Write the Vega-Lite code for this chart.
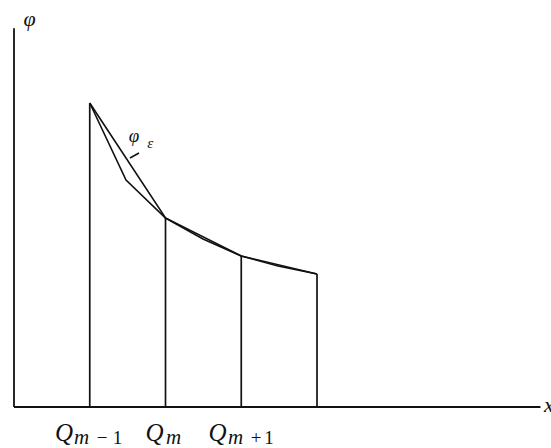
{
  "$schema": "https://vega.github.io/schema/vega-lite/v6.json",
  "width": 551,
  "height": 448,
  "autosize": {"type": "none"},
  "padding": 0,
  "background": "white",
  "config": {"view": {"stroke": null}, "text": {"font": "Liberation Serif, DejaVu Serif, serif"}},
  "datasets": {
    "axes": [
      {"x": 0, "y": 0, "x2": 0, "y2": 5.0},
      {"x": 0, "y": 0, "x2": 6.95, "y2": 0}
    ],
    "qrules": [
      {"x": 1, "y": 0, "y2": 4.013},
      {"x": 2, "y": 0, "y2": 2.495},
      {"x": 3, "y": 0, "y2": 1.993},
      {"x": 4, "y": 0, "y2": 1.756}
    ],
    "curves": [
      {"s": "a", "o": 1, "x": 1, "y": 4.013},
      {"s": "a", "o": 2, "x": 1.479, "y": 2.997},
      {"s": "a", "o": 3, "x": 2, "y": 2.495},
      {"s": "a", "o": 4, "x": 2.495, "y": 2.218},
      {"s": "a", "o": 5, "x": 3, "y": 1.993},
      {"s": "a", "o": 6, "x": 3.485, "y": 1.861},
      {"s": "a", "o": 7, "x": 4, "y": 1.756},
      {"s": "b", "o": 1, "x": 1, "y": 4.013},
      {"s": "b", "o": 2, "x": 2, "y": 2.495},
      {"s": "b", "o": 3, "x": 3, "y": 1.993},
      {"s": "b", "o": 4, "x": 4, "y": 1.756}
    ],
    "leader": [
      {"x": 1.531, "y": 3.287, "x2": 1.650, "y2": 3.353}
    ],
    "labels": [
      {"role": "axis", "t": "φ", "x": 0.205, "y": 5.03},
      {"role": "axisx", "t": "x", "x": 6.995, "y": -0.066},
      {"role": "Q", "t": "Q", "x": 0.660, "y": -0.449},
      {"role": "Q", "t": "Q", "x": 1.855, "y": -0.449},
      {"role": "Q", "t": "Q", "x": 2.686, "y": -0.449},
      {"role": "m", "t": "m", "x": 0.792, "y": -0.488},
      {"role": "m", "t": "m", "x": 2.007, "y": -0.488},
      {"role": "m", "t": "m", "x": 2.825, "y": -0.488},
      {"role": "num", "t": "−", "x": 1.162, "y": -0.488},
      {"role": "num", "t": "1", "x": 1.366, "y": -0.488},
      {"role": "num", "t": "+", "x": 3.195, "y": -0.488},
      {"role": "num", "t": "1", "x": 3.366, "y": -0.488},
      {"role": "phi", "t": "φ", "x": 1.584, "y": 3.498},
      {"role": "eps", "t": "ε", "x": 1.799, "y": 3.419}
    ]
  },
  "encoding": {
    "x": {"field": "x", "type": "quantitative", "scale": {"domain": [-0.1848, 7.089], "nice": false, "zero": false}, "axis": null},
    "y": {"field": "y", "type": "quantitative", "scale": {"domain": [-0.5413, 5.373], "nice": false, "zero": false}, "axis": null}
  },
  "layer": [
    {
      "data": {"name": "axes"},
      "mark": {"type": "rule", "color": "#111", "strokeWidth": 1.8},
      "encoding": {"x2": {"field": "x2"}, "y2": {"field": "y2"}}
    },
    {
      "data": {"name": "qrules"},
      "mark": {"type": "rule", "color": "#111", "strokeWidth": 1.7},
      "encoding": {"y2": {"field": "y2"}}
    },
    {
      "data": {"name": "curves"},
      "mark": {"type": "line", "color": "#111", "strokeWidth": 1.6, "strokeJoin": "miter"},
      "encoding": {"detail": {"field": "s"}, "order": {"field": "o", "type": "quantitative"}}
    },
    {
      "data": {"name": "leader"},
      "mark": {"type": "rule", "color": "#111", "strokeWidth": 1.5},
      "encoding": {"x2": {"field": "x2"}, "y2": {"field": "y2"}}
    },
    {
      "data": {"name": "labels"},
      "transform": [{"filter": "datum.role === 'axis'"}],
      "mark": {"type": "text", "font": "Liberation Serif, DejaVu Serif, serif", "fontStyle": "italic", "fontSize": 22, "align": "center", "baseline": "alphabetic", "color": "#111"},
      "encoding": {"text": {"field": "t"}}
    },
    {
      "data": {"name": "labels"},
      "transform": [{"filter": "datum.role === 'axisx'"}],
      "mark": {"type": "text", "font": "Liberation Serif, DejaVu Serif, serif", "fontStyle": "italic", "fontSize": 22, "align": "left", "baseline": "alphabetic", "color": "#111"},
      "encoding": {"text": {"field": "t"}}
    },
    {
      "data": {"name": "labels"},
      "transform": [{"filter": "datum.role === 'Q'"}],
      "mark": {"type": "text", "font": "Liberation Serif, DejaVu Serif, serif", "fontStyle": "italic", "fontSize": 25, "align": "center", "baseline": "alphabetic", "color": "#111"},
      "encoding": {"text": {"field": "t"}}
    },
    {
      "data": {"name": "labels"},
      "transform": [{"filter": "datum.role === 'm'"}],
      "mark": {"type": "text", "font": "Liberation Serif, DejaVu Serif, serif", "fontStyle": "italic", "fontSize": 21, "align": "left", "baseline": "alphabetic", "color": "#111"},
      "encoding": {"text": {"field": "t"}}
    },
    {
      "data": {"name": "labels"},
      "transform": [{"filter": "datum.role === 'num'"}],
      "mark": {"type": "text", "font": "Liberation Serif, DejaVu Serif, serif", "fontSize": 19, "align": "center", "baseline": "alphabetic", "color": "#111"},
      "encoding": {"text": {"field": "t"}}
    },
    {
      "data": {"name": "labels"},
      "transform": [{"filter": "datum.role === 'phi'"}],
      "mark": {"type": "text", "font": "Liberation Serif, DejaVu Serif, serif", "fontStyle": "italic", "fontSize": 19, "align": "center", "baseline": "alphabetic", "color": "#111"},
      "encoding": {"text": {"field": "t"}}
    },
    {
      "data": {"name": "labels"},
      "transform": [{"filter": "datum.role === 'eps'"}],
      "mark": {"type": "text", "font": "Liberation Serif, DejaVu Serif, serif", "fontStyle": "italic", "fontSize": 15, "align": "center", "baseline": "alphabetic", "color": "#111"},
      "encoding": {"text": {"field": "t"}}
    }
  ]
}
